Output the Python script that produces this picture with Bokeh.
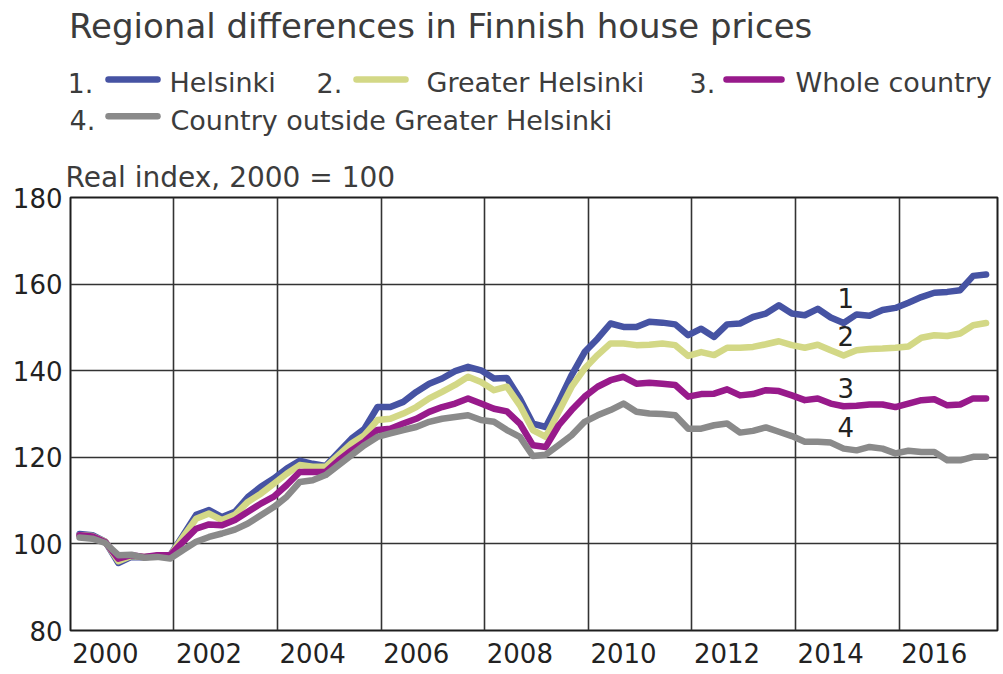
from bokeh.plotting import figure
from bokeh.layouts import column
from bokeh.models import Range1d, FixedTicker, CustomJSTickFormatter
from bokeh.embed import file_html
from bokeh.resources import INLINE
from bokeh.core.properties import value

# ---------------- data (quarterly, 2000Q1 .. 2017Q3) ----------------
start_year = 2000
helsinki = [102.3, 102.0, 100.5, 95.6, 97.0, 96.9, 97.2, 97.4, 102.0,
            106.7, 107.8, 106.2, 107.4, 110.8, 113.2, 115.1, 117.4, 119.2, 118.5,
            118.0, 121.2, 124.3, 126.6, 131.6, 131.6, 132.8, 135.1, 137.0, 138.2, 139.9, 140.9, 140.1,
            138.2, 138.3, 133.6, 127.8, 127.0, 132.8, 139.0, 144.3, 147.4, 150.9, 150.1, 150.1, 151.3,
            151.1, 150.7, 148.2, 149.7, 147.8, 150.7, 150.9, 152.4, 153.2, 155.1, 153.2, 152.8, 154.3, 152.3,
            151.0, 153.0, 152.7, 154.0, 154.5, 155.7, 157.0, 158.0, 158.2, 158.6, 161.9, 162.2]
greater_helsinki = [102.0, 101.8, 100.5, 96.0, 97.2, 97.0, 97.2, 97.3, 101.6,
                    105.8, 107.0, 105.5, 106.7, 109.7, 111.6, 113.9, 116.2, 118.2, 117.8,
                    117.8, 120.5, 123.2, 125.1, 128.6, 128.9, 130.1, 131.6, 133.6, 135.1, 136.7, 138.6, 137.4,
                    135.5, 136.3, 132.0, 126.3, 124.7, 130.5, 136.3, 140.5, 143.6, 146.3, 146.3, 145.9, 146.0,
                    146.3, 145.9, 143.4, 144.3, 143.6, 145.3, 145.3, 145.5, 146.1, 146.8, 145.9, 145.3, 146.0, 144.7,
                    143.5, 144.7, 145.0, 145.1, 145.3, 145.6, 147.6, 148.2, 148.0, 148.6, 150.5, 151.0]
whole_country = [102.0, 101.7, 100.4, 96.6, 97.4, 97.0, 97.4, 97.4, 100.5,
                 103.5, 104.5, 104.3, 105.5, 107.4, 109.3, 110.9, 113.6, 116.6, 116.6,
                 116.6, 119.3, 121.6, 123.6, 126.3, 126.6, 127.8, 128.9, 130.5, 131.6, 132.4, 133.6, 132.4,
                 131.2, 130.6, 127.8, 122.8, 122.4, 127.4, 130.9, 134.0, 136.3, 137.8, 138.6, 137.0, 137.2,
                 137.0, 136.7, 134.0, 134.6, 134.7, 135.7, 134.3, 134.6, 135.5, 135.3, 134.3, 133.2, 133.6, 132.4,
                 131.8, 131.9, 132.2, 132.2, 131.6, 132.4, 133.2, 133.4, 132.0, 132.2, 133.6, 133.6]
outside_greater = [101.5, 101.2, 100.2, 97.4, 97.5, 96.8, 97.0, 96.6, 98.6,
                   100.5, 101.6, 102.4, 103.3, 104.7, 106.6, 108.5, 110.9, 114.3, 114.7,
                   115.9, 118.2, 120.5, 122.8, 124.7, 125.5, 126.3, 127.0, 128.2, 128.9, 129.3, 129.7, 128.6,
                   128.2, 126.3, 124.7, 120.3, 120.6, 122.8, 125.1, 128.2, 129.7, 130.9, 132.4, 130.5, 130.1,
                   130.0, 129.7, 126.6, 126.6, 127.4, 127.8, 125.7, 126.1, 126.9, 125.9, 124.9, 123.6, 123.6, 123.4,
                   122.0, 121.6, 122.4, 122.0, 120.9, 121.5, 121.2, 121.2, 119.3, 119.3, 120.1, 120.1]

series_names = ["Helsinki", "Greater Helsinki", "Whole country", "Country outside Greater Helsinki"]
series_values = [helsinki, greater_helsinki, whole_country, outside_greater]
series_colors = ["#4653a3", "#d3d886", "#981a8b", "#8a8a8a"]
series_numbers = ["1", "2", "3", "4"]

y_ticks = [80, 100, 120, 140, 160, 180]
x_label_years = [2000, 2002, 2004, 2006, 2008, 2010, 2012, 2014, 2016]
x_grid_positions = [2001.82, 2003.82, 2005.82, 2007.82, 2009.82, 2011.82, 2013.82, 2015.82]

title_text = "Regional differences in Finnish house prices"
subtitle_text = "Real index, 2000 = 100"

FONT = value("DejaVu Sans")
TXT = "#3c3c3c"
X0, X1 = 1999.826, 2017.72

# ---------------- header (title + legend); coordinates are page pixels ----------------
H = 154
hdr = figure(width=1003, height=H, x_range=Range1d(70, 997), y_range=Range1d(H, 0),
             output_backend="svg", toolbar_location=None, min_border=0,
             x_axis_type=None, y_axis_type=None, outline_line_color=None)
hdr.xgrid.visible = False
hdr.ygrid.visible = False

hdr.text(x=[68.5], y=[25], text=[title_text], text_font=FONT, text_font_size="34px",
         text_color=TXT, text_baseline="middle", text_align="left")

# legend layout: (number x, key x0, key x1, label x, text y, key y)
leg_layout = [(67, 108, 157, 169, 82.3, 79),
              (316, 356, 405, 426, 82.3, 79),
              (689, 726, 781, 795, 82.3, 79),
              (69, 108, 157, 170, 119.5, 115.7)]
for (nx, k0, k1, lx, ty, ky), num, name, col in zip(leg_layout, series_numbers, series_names, series_colors):
    hdr.text(x=[nx], y=[ty], text=[num + "."], text_font=FONT, text_font_size="27px",
             text_color=TXT, text_baseline="middle")
    hdr.segment(x0=[k0], y0=[ky], x1=[k1], y1=[ky], line_color=col,
                line_width=6.5, line_cap="round")
    hdr.text(x=[lx], y=[ty], text=[name], text_font=FONT, text_font_size="27px",
             text_color=TXT, text_baseline="middle")

# ---------------- main chart ----------------
p = figure(frame_width=927, frame_height=433, x_range=Range1d(X0, X1), y_range=Range1d(80, 180),
           output_backend="svg", toolbar_location=None,
           min_border_left=70, min_border_right=6, min_border_top=40, min_border_bottom=42)
p.outline_line_color = "#1e1e1e"
p.outline_line_width = 2

p.title.text = subtitle_text
p.title.align = "left"
p.title.text_font = "DejaVu Sans"
p.title.text_font_size = "28px"
p.title.text_font_style = "normal"
p.title.text_color = TXT
p.title.offset = -5
p.title.standoff = 8

p.yaxis.ticker = FixedTicker(ticks=y_ticks)
p.xaxis.ticker = FixedTicker(ticks=[yr + 0.5 for yr in x_label_years])
p.xaxis.formatter = CustomJSTickFormatter(code="return Math.floor(tick).toFixed(0);")
for ax in (p.xaxis, p.yaxis):
    ax.major_label_text_font = "DejaVu Sans"
    ax.major_label_text_font_size = "26px"
    ax.major_label_text_color = "#222222"
    ax.major_tick_line_color = None
    ax.minor_tick_line_color = None
    ax.major_tick_out = 0
    ax.major_tick_in = 0
    ax.minor_tick_out = 0
    ax.minor_tick_in = 0
    ax.axis_line_color = None
p.yaxis.major_label_standoff = 8
p.xaxis.major_label_standoff = 12

p.xgrid.ticker = FixedTicker(ticks=x_grid_positions)
p.xgrid.grid_line_color = "#333333"
p.xgrid.grid_line_width = 1.6
p.ygrid.grid_line_color = "#333333"
p.ygrid.grid_line_width = 1.6

for vals, col in zip(series_values, series_colors):
    xs = [start_year + k * 0.25 for k in range(len(vals))]
    p.line(xs, vals, line_color=col, line_width=6.5, line_join="round", line_cap="round")

# numbers next to the lines
num_x = [2014.79] * 4
num_y = [156.9, 147.9, 136.1, 126.9]
p.text(x=num_x, y=num_y, text=series_numbers, text_font=FONT, text_font_size="26px",
       text_color="#222222", text_align="center", text_baseline="middle")

layout = column(hdr, p, spacing=0)
open("out.html", "w").write(file_html(layout, INLINE))
